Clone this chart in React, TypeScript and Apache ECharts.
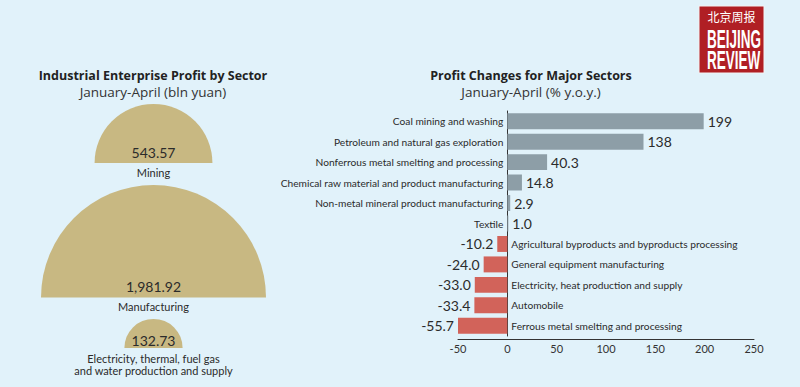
import React, { useEffect, useRef } from "react";
import * as echarts from "echarts";

// ---- Data ----
const sectorNames = [
  "Mining",
  "Manufacturing",
  "Electricity, thermal, fuel gas\nand water production and supply",
];
const sectorValues = [543.57, 1981.92, 132.73];

const changeCategories = [
  "Coal mining and washing",
  "Petroleum and natural gas exploration",
  "Nonferrous metal smelting and processing",
  "Chemical raw material and product manufacturing",
  "Non-metal mineral product manufacturing",
  "Textile",
  "Agricultural byproducts and byproducts processing",
  "General equipment manufacturing",
  "Electricity, heat production and supply",
  "Automobile",
  "Ferrous metal smelting and processing",
];
const changeValues = [199, 138, 40.3, 14.8, 2.9, 1.0, -10.2, -24.0, -33.0, -33.4, -55.7];
const xTicks = [-50, 0, 50, 100, 150, 200, 250];

const leftTitle = "Industrial Enterprise Profit by Sector";
const leftSubtitle = "January-April (bln yuan)";
const rightTitle = "Profit Changes for Major Sectors";
const rightSubtitle = "January-April (% y.o.y.)";

// ---- Layout / style ----
const BG = "#E1F2FA";
const TAN = "#C8B882";
const POS = "#8D9EA7";
const NEG = "#D2635A";
const TEXT = "#2b2b2b";
const FONT = "Lato, 'Noto Sans', sans-serif";
const TITLE_FONT = "'Open Sans', 'Noto Sans', sans-serif";

const halfCenterX = 153.5;
const maxRadius = 112.5;
const sectorLayout = [
  { baseY: 163, valueDy: -11, nameDy: 9 },
  { baseY: 297.5, valueDy: -11, nameDy: 8.5 },
  { baseY: 348, valueDy: -8, nameDy: 10 },
];

function fmtChange(v: number): string {
  return Math.abs(v) >= 100 ? v.toFixed(0) : v.toFixed(1);
}
function fmtProfit(v: number): string {
  return v.toLocaleString("en-US", { minimumFractionDigits: 2, maximumFractionDigits: 2 });
}

function textEl(text: string, x: number, y: number, style: any, extra: any = {}) {
  return {
    type: "text",
    x,
    y,
    z: 100,
    silent: true,
    ...extra,
    style: {
      text,
      textAlign: "center",
      textVerticalAlign: "middle",
      ...style,
    },
  };
}

export default function App() {
  const ref = useRef<HTMLDivElement>(null);

  useEffect(() => {
    if (!ref.current) return;
    const chart = echarts.init(ref.current, undefined, { renderer: "svg" });
    const maxV = Math.max(...sectorValues);

    const pieSeries = sectorValues.map((v, i) => ({
      type: "pie",
      silent: true,
      z: 1,
      center: [halfCenterX, sectorLayout[i].baseY],
      radius: [0, maxRadius * Math.sqrt(v / maxV)],
      startAngle: 180,
      clockwise: true,
      label: { show: false },
      labelLine: { show: false },
      data: [
        { value: v, itemStyle: { color: TAN } },
        { value: v, itemStyle: { color: "rgba(0,0,0,0)" } },
      ],
    }));

    const sectorTexts: any[] = [];
    sectorValues.forEach((v, i) => {
      const l = sectorLayout[i];
      sectorTexts.push(
        textEl(fmtProfit(v), halfCenterX, l.baseY + l.valueDy, {
          fontSize: 14,
          fontFamily: FONT,
          fill: TEXT,
        })
      );
      sectorTexts.push(
        textEl(sectorNames[i], halfCenterX, l.baseY + l.nameDy - 6, {
          fontSize: 11,
          lineHeight: 12,
          fontFamily: FONT,
          fill: TEXT,
          textVerticalAlign: "top",
        })
      );
    });

    const titleTexts = [
      textEl(leftTitle, 153, 75, { fontSize: 12.5, fontWeight: "bold", fontFamily: TITLE_FONT, fill: "#222" }),
      textEl(leftSubtitle, 153, 92, { fontSize: 13.5, fontFamily: TITLE_FONT, fill: "#333" }),
      textEl(rightTitle, 531, 75, { fontSize: 12.5, fontWeight: "bold", fontFamily: TITLE_FONT, fill: "#222" }),
      textEl(rightSubtitle, 531, 92, { fontSize: 13.5, fontFamily: TITLE_FONT, fill: "#333" }),
    ];

    const option: any = {
      animation: false,
      backgroundColor: BG,
      grid: { left: 458, right: 46, top: 111, bottom: 51, containLabel: false },
      xAxis: {
        type: "value",
        min: xTicks[0],
        max: xTicks[xTicks.length - 1],
        interval: xTicks[1] - xTicks[0],
        offset: 3,
        axisLine: { show: true, lineStyle: { color: "#333", width: 1 } },
        axisTick: { show: false },
        splitLine: { show: false },
        axisLabel: { color: "#333", fontSize: 11, fontFamily: FONT, margin: 4 },
      },
      yAxis: {
        type: "category",
        inverse: true,
        data: changeCategories,
        axisLine: { show: true, onZero: true, lineStyle: { color: "#333", width: 1 } },
        axisTick: { show: false },
        axisLabel: { show: false },
      },
      series: [
        {
          type: "bar",
          silent: true,
          barCategoryGap: "22%",
          data: changeValues.map((v) => ({
            value: v,
            itemStyle: { color: v >= 0 ? POS : NEG },
            label: {
              show: true,
              position: v >= 0 ? "right" : "left",
              distance: 4,
              formatter: fmtChange(v),
              fontSize: 14,
              fontFamily: FONT,
              color: TEXT,
            },
          })),
        },
        {
          type: "bar",
          silent: true,
          barGap: "-100%",
          barCategoryGap: "22%",
          itemStyle: { color: "rgba(0,0,0,0)" },
          data: changeValues.map((v, i) => ({
            value: 0,
            label: {
              show: true,
              position: v >= 0 ? "left" : "right",
              distance: 4,
              formatter: changeCategories[i],
              fontSize: 10.2,
              fontFamily: FONT,
              color: TEXT,
            },
          })),
        },
        ...pieSeries,
      ],
      graphic: [
        ...titleTexts,
        ...sectorTexts,
        {
          type: "rect",
          z: 100,
          shape: { x: 699, y: 6, width: 65, height: 67 },
          style: { fill: "#B01F24", stroke: "#f3f3f3", lineWidth: 1 },
        },
        textEl("北京周报", 731.5, 16, {
          fontSize: 12,
          fontFamily: "'Noto Sans CJK SC', sans-serif",
          fill: "#fff",
        }),
        textEl(
          "BEIJING",
          707,
          39,
          {
            fontSize: 26,
            fontWeight: "bold",
            fontFamily: "'Liberation Sans', sans-serif",
            fill: "#fff",
            textAlign: "left",
          },
          { scaleX: 0.52 }
        ),
        textEl(
          "REVIEW",
          707,
          60,
          {
            fontSize: 26,
            fontWeight: "bold",
            fontFamily: "'Liberation Sans', sans-serif",
            fill: "#fff",
            textAlign: "left",
          },
          { scaleX: 0.52 }
        ),
      ],
    };

    chart.setOption(option);
    return () => chart.dispose();
  }, []);

  return (
    <div
      ref={ref}
      style={{ position: "absolute", left: 0, top: 0, width: 800, height: 387 }}
    />
  );
}
